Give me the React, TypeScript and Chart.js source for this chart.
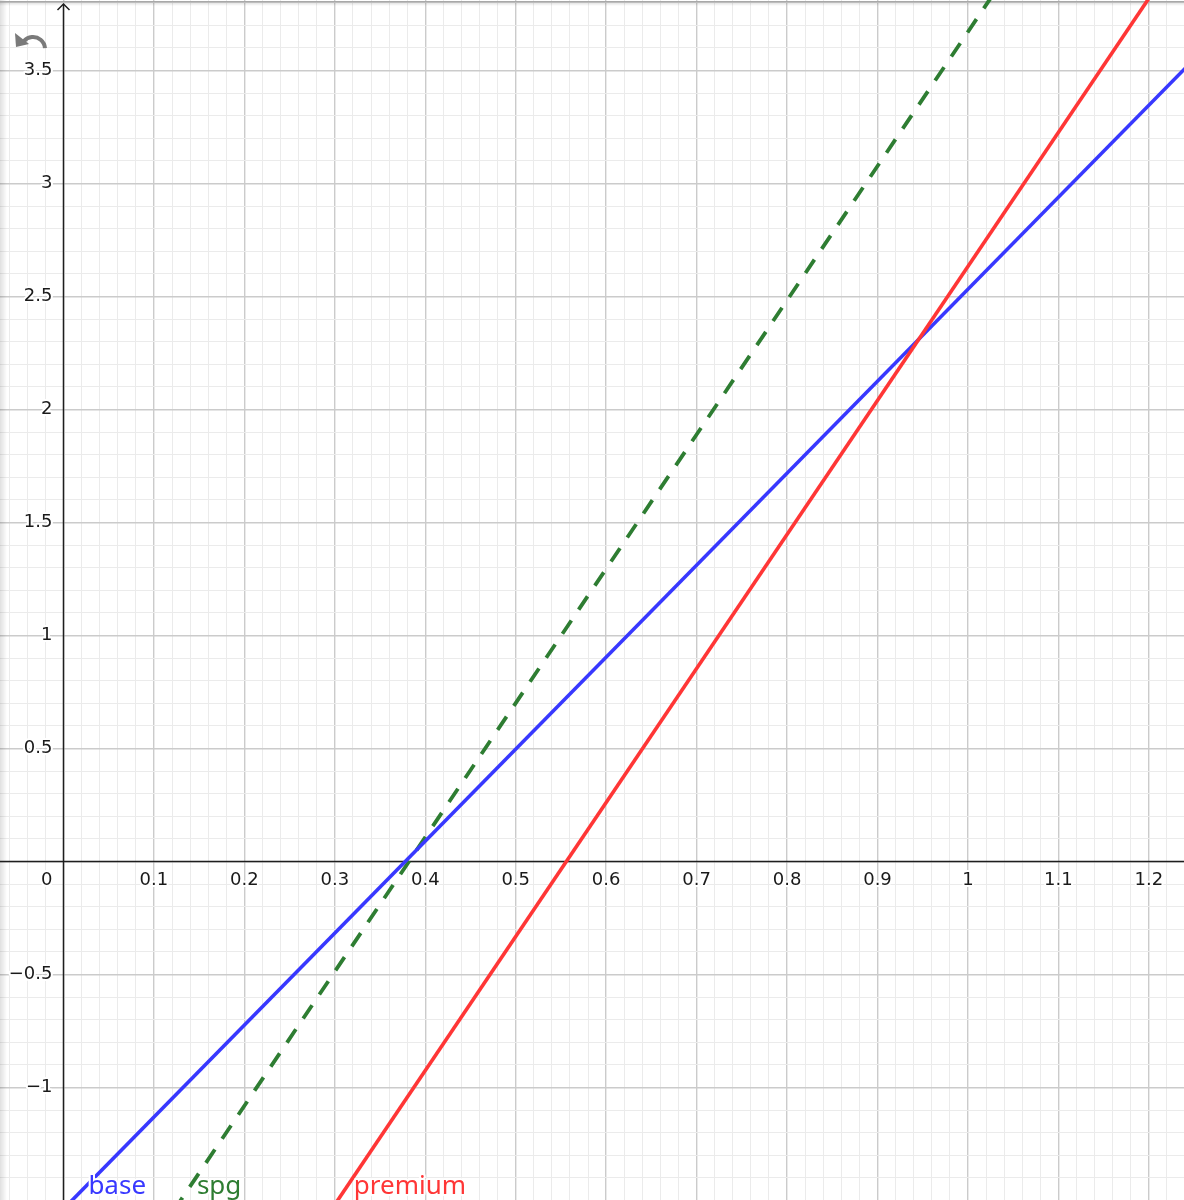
import { useEffect, useRef } from "react";
import { Chart, registerables } from "chart.js";

Chart.register(...registerables);

// series: two points on each straight line
const seriesNames = ["base", "spg", "premium"];
const seriesColors = ["#3838ff", "#2e7d32", "#ff3636"];
const baseXs = [-0.1, 1.3];
const baseYs = [-1.945, 3.753];
const spgXs = [0.05, 1.1];
const spgYs = [-1.972, 4.265];
const premiumXs = [0.2, 1.3];
const premiumYs = [-2.111, 4.412];

// visible window
const xRange = [-0.0702, 1.2389];
const yRange = [-1.498, 3.812];

// axis labels
const xTicks = [0.1, 0.2, 0.3, 0.4, 0.5, 0.6, 0.7, 0.8, 0.9, 1, 1.1, 1.2];
const xTickLabels = ["0.1", "0.2", "0.3", "0.4", "0.5", "0.6", "0.7", "0.8", "0.9", "1", "1.1", "1.2"];
const yTicks = [-1, -0.5, 0.5, 1, 1.5, 2, 2.5, 3, 3.5];
const yTickLabels = ["\u22121", "\u22120.5", "0.5", "1", "1.5", "2", "2.5", "3", "3.5"];

const pts = (xs: number[], ys: number[]) => xs.map((x, i) => ({ x, y: ys[i] }));

const isMajor = (v: number, step: number) => Math.abs(v / step - Math.round(v / step)) < 1e-6;

function haloText(ctx: CanvasRenderingContext2D, s: string, x: number, y: number, color: string) {
  ctx.strokeStyle = "#fff";
  ctx.lineWidth = 4;
  ctx.lineJoin = "round";
  ctx.strokeText(s, x, y);
  ctx.fillStyle = color;
  ctx.fillText(s, x, y);
}

const graphPlugin = {
  id: "graphPaper",
  beforeDatasetsDraw(chart: any) {
    const { ctx, chartArea: a, scales } = chart;
    const sx = scales.x;
    const sy = scales.y;
    const ox = sx.getPixelForValue(0);
    const oy = sy.getPixelForValue(0);
    ctx.save();
    // frame shading
    const gl = ctx.createLinearGradient(a.left, 0, a.left + 7, 0);
    gl.addColorStop(0, "rgba(0,0,0,0.12)");
    gl.addColorStop(1, "rgba(0,0,0,0)");
    ctx.fillStyle = gl;
    ctx.fillRect(a.left, a.top, 7, a.bottom - a.top);
    ctx.fillStyle = "#a8a8a8";
    ctx.fillRect(a.left, a.top + 1, a.right - a.left, 1.5);
    const gt = ctx.createLinearGradient(0, a.top + 2.5, 0, a.top + 6);
    gt.addColorStop(0, "rgba(0,0,0,0.12)");
    gt.addColorStop(1, "rgba(0,0,0,0)");
    ctx.fillStyle = gt;
    ctx.fillRect(a.left, a.top + 2.5, a.right - a.left, 4);

    // axes
    ctx.strokeStyle = "#1e1e1e";
    ctx.lineWidth = 1.5;
    ctx.beginPath();
    ctx.moveTo(a.left, oy);
    ctx.lineTo(a.right, oy);
    ctx.moveTo(ox, a.top + 4);
    ctx.lineTo(ox, a.bottom);
    ctx.stroke();
    ctx.beginPath();
    ctx.moveTo(ox - 6, a.top + 10);
    ctx.lineTo(ox, a.top + 4);
    ctx.lineTo(ox + 6, a.top + 10);
    ctx.stroke();

    // tick labels
    ctx.font = '18px "DejaVu Sans"';
    ctx.textBaseline = "middle";
    ctx.textAlign = "center";
    xTicks.forEach((v, i) => haloText(ctx, xTickLabels[i], sx.getPixelForValue(v), oy + 19, "#1a1a1a"));
    ctx.textAlign = "right";
    yTicks.forEach((v, i) => haloText(ctx, yTickLabels[i], ox - 11, sy.getPixelForValue(v), "#1a1a1a"));
    haloText(ctx, "0", ox - 11, oy + 19, "#1a1a1a");
    ctx.restore();
  },
  afterDatasetsDraw(chart: any) {
    const { ctx, chartArea: a } = chart;
    ctx.save();
    // series names where each line leaves the bottom edge
    ctx.font = '26px "Noto Sans"';
    ctx.textAlign = "left";
    ctx.textBaseline = "alphabetic";
    chart.data.datasets.forEach((ds: any, i: number) => {
      const [p0, p1] = chart.getDatasetMeta(i).data;
      const xb = p0.x + ((a.bottom - p0.y) * (p1.x - p0.x)) / (p1.y - p0.y);
      haloText(ctx, ds.label, xb + 16, a.bottom - 6, ds.borderColor);
    });
    // undo icon
    ctx.strokeStyle = "#7a7a7a";
    ctx.fillStyle = "#7a7a7a";
    ctx.lineWidth = 4;
    ctx.beginPath();
    ctx.arc(33, 49, 12, Math.PI * 1.22, Math.PI * 1.98);
    ctx.stroke();
    ctx.beginPath();
    ctx.moveTo(15, 33);
    ctx.lineTo(16, 47);
    ctx.lineTo(29, 44);
    ctx.closePath();
    ctx.fill();
    ctx.restore();
  },
};

function GraphChart() {
  const ref = useRef<HTMLCanvasElement>(null);

  useEffect(() => {
    if (!ref.current) return;
    const gridColor = (step: number) => (c: any) =>
      isMajor(c.tick.value, step) ? "#cbcbcb" : "#ebebeb";
    const gridWidth = (step: number) => (c: any) => (isMajor(c.tick.value, step) ? 1.4 : 1);

    const chart = new Chart(ref.current, {
      type: "line",
      data: {
        datasets: [
          {
            label: seriesNames[0],
            data: pts(baseXs, baseYs),
            borderColor: seriesColors[0],
            borderWidth: 3.6,
            pointRadius: 0,
            order: 1,
          },
          {
            label: seriesNames[1],
            data: pts(spgXs, spgYs),
            borderColor: seriesColors[1],
            borderWidth: 3.8,
            borderDash: [16, 13],
            pointRadius: 0,
            order: 2,
          },
          {
            label: seriesNames[2],
            data: pts(premiumXs, premiumYs),
            borderColor: seriesColors[2],
            borderWidth: 3.6,
            pointRadius: 0,
            order: 0,
          },
        ],
      },
      options: {
        responsive: true,
        maintainAspectRatio: false,
        animation: false,
        events: [],
        layout: { padding: 0 },
        plugins: { legend: { display: false }, tooltip: { enabled: false } },
        scales: {
          x: {
            type: "linear",
            min: xRange[0],
            max: xRange[1],
            afterFit: (s: any) => {
              s.height = 0;
            },
            border: { display: false },
            grid: { color: gridColor(0.1), lineWidth: gridWidth(0.1), drawTicks: false },
            ticks: { display: false, stepSize: 0.02, includeBounds: false },
          },
          y: {
            type: "linear",
            min: yRange[0],
            max: yRange[1],
            afterFit: (s: any) => {
              s.width = 0;
            },
            border: { display: false },
            grid: { color: gridColor(0.5), lineWidth: gridWidth(0.5), drawTicks: false },
            ticks: { display: false, stepSize: 0.1, includeBounds: false },
          },
        },
      },
      plugins: [graphPlugin],
    } as any);
    return () => {
      chart.destroy();
    };
  }, []);

  return (
    <div style={{ position: "absolute", left: 0, top: 0, width: 1184, height: 1200, background: "#fff" }}>
      <canvas ref={ref} />
    </div>
  );
}

export default function App() {
  return <GraphChart />;
}
